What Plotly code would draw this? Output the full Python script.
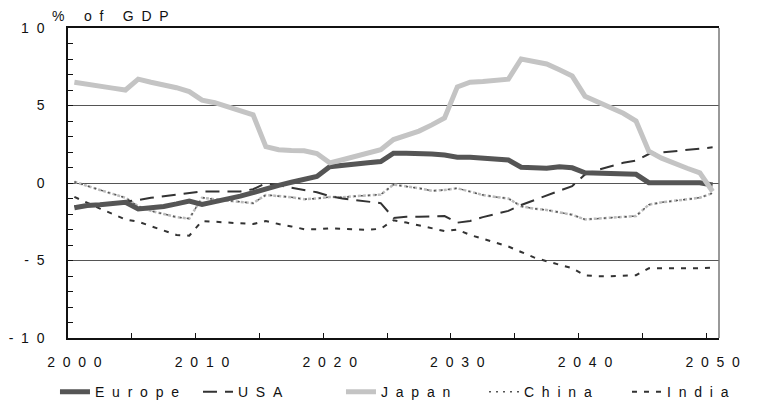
import plotly.graph_objects as go

years = list(range(2000, 2051))

europe = [-1.6, -1.45, -1.4, -1.33, -1.25, -1.68, -1.6, -1.52, -1.35, -1.16,
          -1.38, -1.22, -1.08, -0.85, -0.62, -0.35, -0.15, 0.05, 0.22, 0.42,
          1.05, 1.16, 1.22, 1.3, 1.38, 1.92, 1.92, 1.92, 1.87, 1.8,
          1.66, 1.66, 1.6, 1.55, 1.48, 1.02, 1.0, 0.95, 1.05, 0.98,
          0.66, 0.62, 0.58, 0.57, 0.56, 0.02, 0.02, 0.02, 0.02, 0.02, -0.13]

usa = [-1.5, -1.45, -1.4, -1.3, -1.2, -1.1, -0.95, -0.85, -0.75, -0.65,
       -0.55, -0.55, -0.55, -0.55, -0.4, -0.02, -0.15, -0.3, -0.45, -0.6,
       -0.85, -1.0, -1.1, -1.18, -1.3, -2.25, -2.17, -2.17, -2.15, -2.13,
       -2.56, -2.45, -2.2, -2.0, -1.8, -1.42, -1.1, -0.8, -0.5, -0.2,
       0.55, 0.85, 1.1, 1.3, 1.45, 1.87, 1.97, 2.05, 2.15, 2.25, 2.3]

japan = [6.5, 6.35, 6.25, 6.12, 6.0, 6.7, 6.5, 6.35, 6.15, 5.9,
         5.35, 5.18, 4.9, 4.65, 4.4, 2.35, 2.15, 2.1, 2.08, 1.9,
         1.3, 1.5, 1.7, 1.9, 2.15, 2.8, 3.05, 3.35, 3.75, 4.2,
         6.2, 6.5, 6.55, 6.62, 6.7, 8.0, 7.85, 7.68, 7.3, 6.9,
         5.6, 5.25, 4.92, 4.5, 4.0, 2.05, 1.6, 1.25, 0.95, 0.65, -0.55]

china = [0.08, -0.2, -0.45, -0.7, -0.95, -1.5, -1.8, -2.0, -2.2, -2.3,
         -0.95, -1.05, -1.12, -1.2, -1.3, -0.77, -0.85, -0.92, -1.05, -1.0,
         -0.9, -0.92, -0.85, -0.8, -0.75, -0.1, -0.2, -0.34, -0.5, -0.45,
         -0.34, -0.55, -0.77, -0.9, -1.0, -1.5, -1.65, -1.74, -1.9, -2.05,
         -2.35, -2.3, -2.25, -2.2, -2.13, -1.4, -1.25, -1.15, -1.05, -0.95, -0.65]

india = [-0.9, -1.3, -1.65, -2.0, -2.35, -2.5, -2.8, -3.05, -3.35, -3.4,
         -2.45, -2.5, -2.55, -2.6, -2.65, -2.45, -2.65, -2.8, -2.98, -2.99,
         -2.92, -2.95, -2.99, -3.02, -2.95, -2.4, -2.55, -2.72, -2.9, -3.1,
         -3.0, -3.35, -3.6, -3.85, -4.1, -4.45, -4.8, -5.05, -5.3, -5.5,
         -5.95, -6.02, -6.02, -6.0, -5.95, -5.5, -5.5, -5.5, -5.5, -5.5, -5.45]

x_label_years = [2000, 2010, 2020, 2030, 2040, 2050]
y_label_vals = [-10, -5, 0, 5, 10]
y_title = "% of GDP"

SP = "\u00a0\u00a0"


def spaced(s):
    return SP.join(list(s.replace(" ", "\u00a0")))


fig = go.Figure()

# draw order: India, China, USA, Europe, Japan
fig.add_trace(go.Scatter(x=years, y=india, mode="lines", name=spaced("India"),
                         line=dict(color="#333333", width=2, dash="5px,7px"),
                         legendrank=5))
fig.add_trace(go.Scatter(x=years, y=china, mode="lines", showlegend=False,
                         legendgroup="china", hoverinfo="skip",
                         line=dict(color="#bbbbbb", width=2.5, dash="3px,2px")))
fig.add_trace(go.Scatter(x=years, y=china, mode="lines", name=spaced("China"),
                         legendgroup="china",
                         line=dict(color="#555555", width=1.5, dash="2px,5px"),
                         legendrank=4))
fig.add_trace(go.Scatter(x=years, y=usa, mode="lines", name=spaced("USA"),
                         line=dict(color="#333333", width=2, dash="14px,8px"),
                         legendrank=2))
fig.add_trace(go.Scatter(x=years, y=europe, mode="lines", name=spaced("Europe"),
                         line=dict(color="#555555", width=5),
                         legendrank=1))
fig.add_trace(go.Scatter(x=years, y=japan, mode="lines", name=spaced("Japan"),
                         line=dict(color="#c4c4c4", width=5),
                         legendrank=3))

fig.update_layout(
    template="none",
    width=772, height=404,
    margin=dict(l=60, r=61, t=20, b=74, autoexpand=False),
    plot_bgcolor="white", paper_bgcolor="white",
    font=dict(family="Liberation Sans, Arial, sans-serif", size=14, color="#111111"),
    showlegend=True,
    legend=dict(orientation="h", x=-0.02, xanchor="left", y=-0.175, yanchor="middle",
                font=dict(size=14), itemwidth=30, traceorder="normal",
                entrywidth=98, entrywidthmode="pixels",
                bgcolor="rgba(0,0,0,0)"),
    xaxis=dict(
        range=[1999.5, 2050.5], automargin=False,
        tickmode="array", tickvals=x_label_years,
        ticktext=[spaced(str(v)) for v in x_label_years],
        ticks="", showgrid=False, zeroline=False,
        showline=True, linecolor="#111111", linewidth=1.5, mirror=True,
        ticklabelstandoff=10,
        minor=dict(tickmode="array",
                   tickvals=[v + 4.5 for v in range(2000, 2050, 5)],
                   ticks="inside", ticklen=5, tickcolor="#111111", showgrid=False),
    ),
    yaxis=dict(
        range=[-10, 10], automargin=False,
        tickmode="array", tickvals=y_label_vals,
        ticktext=[spaced(str(v)) for v in y_label_vals],
        ticks="inside", ticklen=5, tickcolor="#111111",
        showgrid=True, gridcolor="#555555", gridwidth=1,
        zeroline=False, showline=True, linecolor="#111111", linewidth=1.5,
        ticklabelstandoff=19,
        minor=dict(dtick=1, tick0=0, ticks="inside", ticklen=5,
                   tickcolor="#111111", showgrid=False),
    ),
    shapes=[dict(type="line", xref="paper", yref="paper", x0=1, x1=1, y0=0, y1=1,
                 line=dict(color="#777777", width=1.5))],
    annotations=[dict(text=spaced(y_title), xref="paper", yref="paper",
                      x=-0.028, y=1.039, xanchor="left", yanchor="middle",
                      showarrow=False, font=dict(size=14))],
)

fig.write_html("out.html")
